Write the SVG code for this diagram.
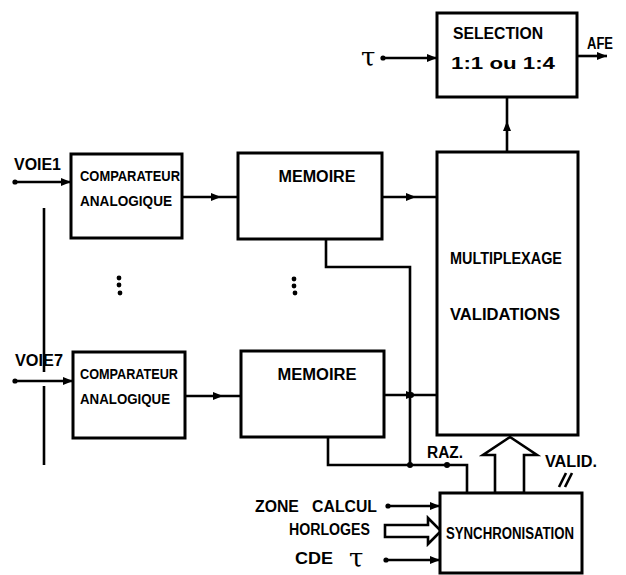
<svg xmlns="http://www.w3.org/2000/svg" width="626" height="575" viewBox="0 0 626 575">
<defs>
<style>
.box{fill:#fff;stroke:#000;stroke-width:3}
.ln{fill:none;stroke:#000;stroke-width:2.6}
.hol{fill:#fff;stroke:#000;stroke-width:2.6;stroke-linejoin:miter}
.t{font-family:"Liberation Sans",Arial,sans-serif;font-weight:bold;font-size:16px;fill:#000}
.s{font-size:14px}
.c{text-anchor:middle}
.tau{font-family:"DejaVu Serif","Liberation Serif",serif;font-size:26px;fill:#000}
</style>
<marker id="ae" viewBox="0 0 10 8" refX="10" refY="4" markerWidth="10" markerHeight="8" markerUnits="userSpaceOnUse" orient="auto">
<path d="M0,0 L10,4 L0,8 z" fill="#000"/>
</marker>
<marker id="am" viewBox="0 0 10 8" refX="5" refY="4" markerWidth="10" markerHeight="8" markerUnits="userSpaceOnUse" orient="auto">
<path d="M0,0 L10,4 L0,8 z" fill="#000"/>
</marker>
</defs>
<rect width="626" height="575" fill="#fff"/>

<g id="connectors">
<circle cx="383" cy="58" r="2.6"/>
<path class="ln" d="M383,58 L437,58" marker-end="url(#ae)"/>
<path class="ln" d="M577,56 L607,56" marker-end="url(#ae)"/>
<path class="ln" d="M507,152 L507,126 L507,97" marker-mid="url(#am)"/>
<circle cx="15" cy="182" r="2.6"/>
<path class="ln" d="M15,182 L71,182" marker-end="url(#ae)"/>
<circle cx="15" cy="381" r="2.6"/>
<path class="ln" d="M15,381 L73,381" marker-end="url(#ae)"/>
<path class="ln" d="M44,208 L44,372 M44,386 L44,465"/>
<path class="ln" d="M182,197 L216,197 L238,197" marker-mid="url(#am)"/>
<path class="ln" d="M185,396 L218,396 L241,396" marker-mid="url(#am)"/>
<path class="ln" d="M382,197 L411,197 L437,197" marker-mid="url(#am)"/>
<path class="ln" d="M384,395 L411,395 L437,395" marker-mid="url(#am)"/>
<circle cx="411" cy="395" r="3"/>
<path class="ln" d="M326,239 L326,267 L410,267 L410,465"/>
<path class="ln" d="M328,437 L328,465 L467,465 L467,493"/>
<circle cx="410" cy="465" r="3"/>
<circle cx="447" cy="465" r="3"/>
<polygon class="hol" points="495,493 495,455 483,455 510,437 537,455 524,455 524,493"/>
<path class="ln" d="M559,487 L566,473 M565,487 L572,473"/>
<circle cx="388" cy="506" r="2.6"/>
<path class="ln" d="M388,506 L440,506" marker-end="url(#ae)"/>
<polygon class="hol" points="385,525 428,525 428,518 441,531 428,544 428,537 385,537"/>
<circle cx="386" cy="560" r="2.6"/>
<path class="ln" d="M386,560 L440,560" marker-end="url(#ae)"/>
<circle cx="119" cy="278" r="2.4"/>
<circle cx="119" cy="285" r="2.4"/>
<circle cx="120" cy="293" r="2.4"/>
<circle cx="294" cy="279" r="2.4"/>
<circle cx="294" cy="286" r="2.4"/>
<circle cx="295" cy="293" r="2.4"/>
</g>

<g id="selection">
<rect class="box" x="437" y="13" width="140" height="84"/>
<text class="t c" x="498" y="39" textLength="90" lengthAdjust="spacingAndGlyphs">SELECTION</text>
<text class="t c" x="503" y="69" textLength="104" lengthAdjust="spacingAndGlyphs">1:1 ou 1:4</text>
</g>

<g id="multiplexage">
<rect class="box" x="437" y="152" width="141" height="283"/>
<text class="t c" x="506" y="264" textLength="112" lengthAdjust="spacingAndGlyphs">MULTIPLEXAGE</text>
<text class="t c" x="505" y="320" textLength="110" lengthAdjust="spacingAndGlyphs">VALIDATIONS</text>
</g>

<g id="comparateur1">
<rect class="box" x="71" y="154" width="111" height="84"/>
<text class="t s" x="80" y="181" textLength="100" lengthAdjust="spacingAndGlyphs">COMPARATEUR</text>
<text class="t s" x="80" y="206" textLength="92" lengthAdjust="spacingAndGlyphs">ANALOGIQUE</text>
</g>

<g id="comparateur7">
<rect class="box" x="73" y="352" width="112" height="86"/>
<text class="t s" x="80" y="379" textLength="98" lengthAdjust="spacingAndGlyphs">COMPARATEUR</text>
<text class="t s" x="80" y="404" textLength="90" lengthAdjust="spacingAndGlyphs">ANALOGIQUE</text>
</g>

<g id="memoire1">
<rect class="box" x="238" y="153" width="144" height="86"/>
<text class="t c" x="317" y="182" textLength="77" lengthAdjust="spacingAndGlyphs">MEMOIRE</text>
</g>

<g id="memoire7">
<rect class="box" x="241" y="351" width="143" height="86"/>
<text class="t c" x="317" y="380" textLength="79" lengthAdjust="spacingAndGlyphs">MEMOIRE</text>
</g>

<g id="synchronisation">
<rect class="box" x="440" y="493" width="142" height="80"/>
<text class="t c" x="510" y="539" textLength="128" lengthAdjust="spacingAndGlyphs">SYNCHRONISATION</text>
</g>

<g id="labels">
<text class="tau" x="361" y="66">τ</text>
<text class="t" x="587" y="49" font-size="13" textLength="26" lengthAdjust="spacingAndGlyphs">AFE</text>
<text class="t" x="14" y="170" textLength="47" lengthAdjust="spacingAndGlyphs">VOIE1</text>
<text class="t" x="15" y="366" textLength="48" lengthAdjust="spacingAndGlyphs">VOIE7</text>
<text class="t" x="427" y="458" font-size="13" textLength="36" lengthAdjust="spacingAndGlyphs">RAZ.</text>
<text class="t" x="545" y="467" font-size="14" textLength="52" lengthAdjust="spacingAndGlyphs">VALID.</text>
<text class="t" x="255" y="512" textLength="122" lengthAdjust="spacingAndGlyphs" style="white-space:pre">ZONE   CALCUL</text>
<text class="t" x="289" y="535" textLength="81" lengthAdjust="spacingAndGlyphs">HORLOGES</text>
<text class="t" x="295" y="564" textLength="38" lengthAdjust="spacingAndGlyphs">CDE</text>
<text class="tau" x="349" y="567">τ</text>
</g>
</svg>
